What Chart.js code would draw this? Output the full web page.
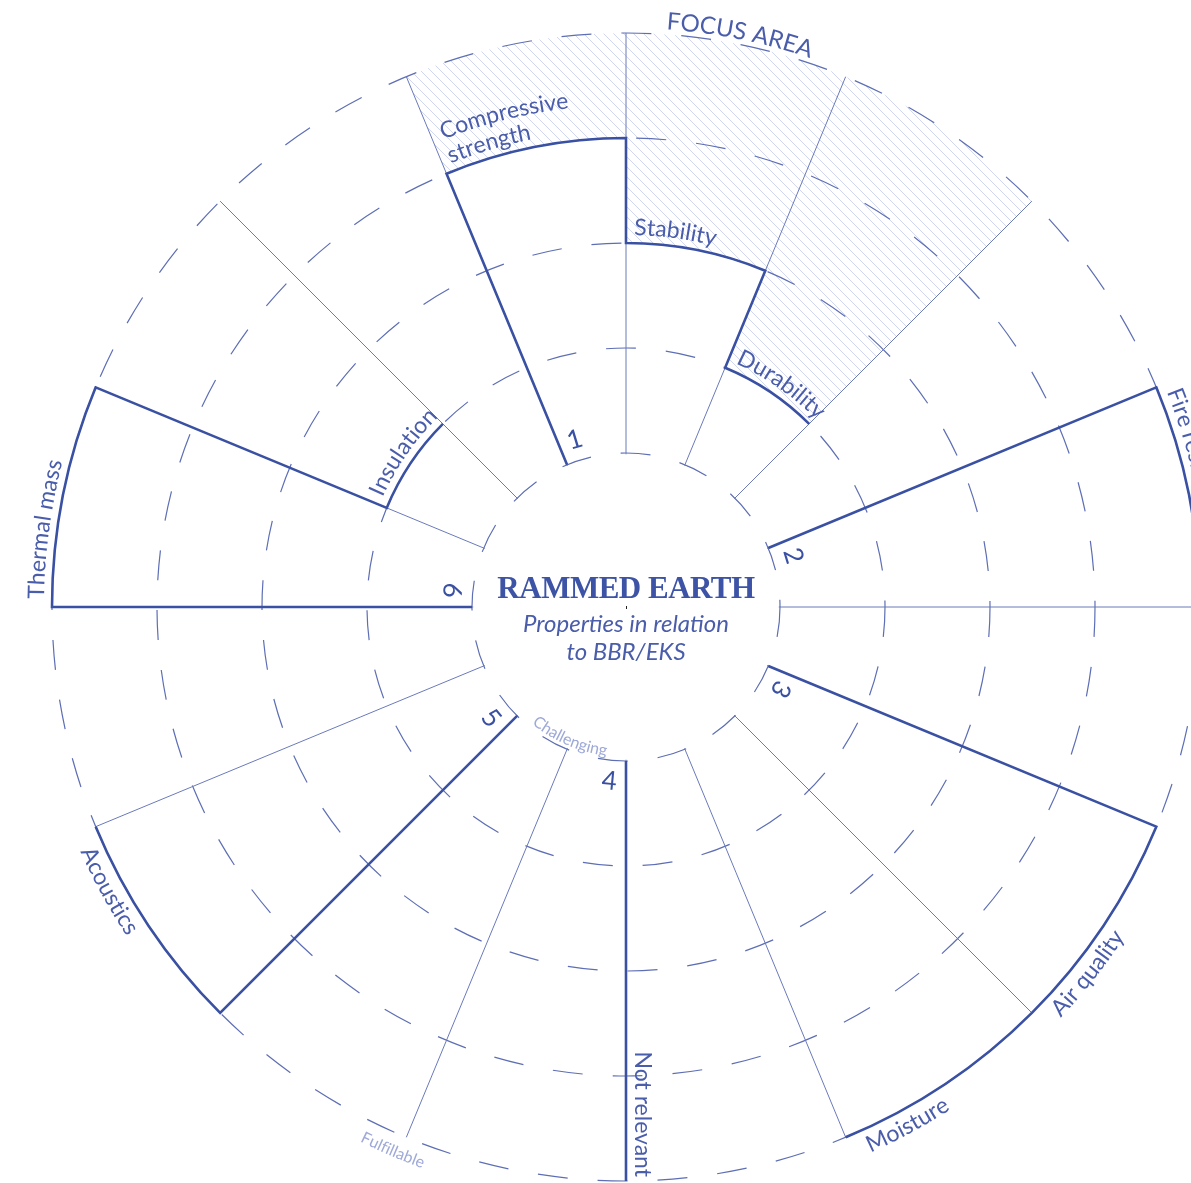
<!DOCTYPE html>
<html>
<head>
<meta charset="utf-8">
<title>Rammed earth</title>
<script src="https://cdn.jsdelivr.net/npm/chart.js@4.4.1/dist/chart.umd.min.js"></script>
<style>
  html, body { margin: 0; padding: 0; background: #fff; overflow: hidden; }
  #wrap { position: absolute; left: 0; top: 0; width: 1260px; height: 1190px; }
</style>
</head>
<body>
<div id="wrap"><canvas id="rammed-earth" width="1260" height="1190"></canvas></div>
<script>
// Sectors clockwise, starting at the left edge of "Compressive strength"
const categories = [
  ['Compressive', 'strength'], 'Stability', 'Durability', '',
  'Fire resistance', '', 'Air quality', 'Moisture', '',
  'Not relevant', '', 'Acoustics', '', 'Thermal mass', 'Insulation', '',
];
// 0 = challenging (inner ring) ... 4 = fulfillable (outer ring)
const ratings = [3, 2, 1, 0, 4, 0, 4, 4, 0, 0, 0, 4, 0, 4, 1, 0];
// property group of every sector (0 = spacer)
const groups = [1, 1, 1, 0, 2, 0, 3, 3, 0, 4, 0, 5, 0, 6, 6, 0];
// sectors inside the hatched focus area
const focus = [1, 1, 1, 0, 0, 0, 0, 0, 0, 0, 0, 0, 0, 0, 0, 0];
const ringValues = [0, 1, 2, 3, 4];
const scaleLabels = ['Challenging', 'Fulfillable'];

const BLUE = '#3a51a3';
const THIN = '#6a7aba';
const RING = '#5d6eb4';
const TEXT = '#4a5dab';
const PALE = '#9ea9d8';
const LABEL_FONT = '23px Lato';

// clock angle: radians clockwise from 12 o'clock
const clock = (canvasAngle) => canvasAngle + Math.PI / 2;
const toDeg = (a) => (((a * 180) / Math.PI) % 360 + 360) % 360;
const at = (s, a, r) => ({ x: s.xCenter + r * Math.sin(a), y: s.yCenter - r * Math.cos(a) });

function arcText(ctx, s, text, r, start, dir) {
  let d = 0;
  for (const ch of text) {
    const w = ctx.measureText(ch).width;
    const a = start + dir * (d + w / 2) / r;
    const p = at(s, a, r);
    ctx.save();
    ctx.translate(p.x, p.y);
    ctx.rotate(dir > 0 ? a : a - Math.PI);
    ctx.textAlign = 'center';
    ctx.fillText(ch, 0, 0);
    ctx.restore();
    d += w;
  }
}

function hatchPattern(ctx) {
  const n = 10;
  const t = document.createElement('canvas');
  t.width = n; t.height = n;
  const c = t.getContext('2d');
  c.strokeStyle = '#d0d6ef';
  c.lineWidth = 1;
  c.beginPath();
  c.moveTo(-1, -1); c.lineTo(n + 1, n + 1);
  c.moveTo(-1, n - 1); c.lineTo(1, n + 1);
  c.moveTo(n - 1, -1); c.lineTo(n + 1, 1);
  c.stroke();
  return ctx.createPattern(t, 'repeat');
}

const wheel = {
  id: 'wheel',
  beforeDraw(chart) {
    // hatched focus area between the bars and the outer ring
    const { ctx } = chart;
    const s = chart.scales.r;
    const arcs = chart.getDatasetMeta(0).data;
    const rMax = s.getDistanceFromCenterForValue(s.max);
    ctx.save();
    ctx.fillStyle = hatchPattern(ctx);
    arcs.forEach((el, i) => {
      if (!focus[i]) return;
      ctx.beginPath();
      ctx.arc(s.xCenter, s.yCenter, rMax, el.startAngle, el.endAngle);
      ctx.arc(s.xCenter, s.yCenter, el.outerRadius, el.endAngle, el.startAngle, true);
      ctx.closePath();
      ctx.fill();
    });
    ctx.restore();
  },
  beforeDatasetsDraw(chart) {
    // clear the hub
    const { ctx } = chart;
    const s = chart.scales.r;
    ctx.save();
    ctx.fillStyle = '#fff';
    ctx.beginPath();
    ctx.arc(s.xCenter, s.yCenter, s.getDistanceFromCenterForValue(0) - 1.2, 0, Math.PI * 2);
    ctx.fill();
    ctx.restore();
  },
  afterDatasetsDraw(chart) {
    const { ctx } = chart;
    const s = chart.scales.r;
    const arcs = chart.getDatasetMeta(0).data;
    const r0 = s.getDistanceFromCenterForValue(0);
    const rMax = s.getDistanceFromCenterForValue(s.max);
    ctx.save();
    ctx.strokeStyle = BLUE;
    ctx.lineWidth = 2.6;
    ctx.font = '26px Lato';
    ctx.fillStyle = BLUE;
    let i = 0;
    while (i < arcs.length) {
      if (!groups[i]) { i++; continue; }
      const g = groups[i];
      const members = [];
      while (i < arcs.length && groups[i] === g) { members.push(i); i++; }
      const first = arcs[members[0]];
      const rated = ratings[members[0]] > 0;
      ctx.beginPath();
      ctx.moveTo(first.x + r0 * Math.cos(first.startAngle), first.y + r0 * Math.sin(first.startAngle));
      const rEdge = rated ? first.outerRadius : rMax;
      ctx.lineTo(first.x + rEdge * Math.cos(first.startAngle), first.y + rEdge * Math.sin(first.startAngle));
      if (rated) {
        members.forEach((m) => {
          const el = arcs[m];
          ctx.lineTo(el.x + el.outerRadius * Math.cos(el.startAngle), el.y + el.outerRadius * Math.sin(el.startAngle));
          ctx.arc(el.x, el.y, el.outerRadius, el.startAngle, el.endAngle);
        });
      }
      ctx.stroke();
      // group number near the hub
      const a = clock(first.startAngle) + (5.5 * Math.PI) / 180;
      const deg = toDeg(a);
      const p = at(s, a, r0 + 21);
      ctx.save();
      ctx.translate(p.x, p.y);
      ctx.rotate(deg > 150 && deg < 300 ? a - Math.PI : a);
      ctx.textAlign = 'center';
      ctx.textBaseline = 'middle';
      ctx.fillText(String(g), 0, 0);
      ctx.restore();
    }
    ctx.restore();
  },
  afterDraw(chart) {
    const { ctx } = chart;
    const s = chart.scales.r;
    const arcs = chart.getDatasetMeta(0).data;
    const r0 = s.getDistanceFromCenterForValue(0);
    const rMax = s.getDistanceFromCenterForValue(s.max);
    ctx.save();
    ctx.fillStyle = TEXT;
    ctx.font = LABEL_FONT;
    ctx.textBaseline = 'alphabetic';
    arcs.forEach((el, i) => {
      const label = categories[i];
      if (!label) return;
      const a0 = clock(el.startAngle);
      const a1 = clock(el.endAngle);
      if (!ratings[i]) {
        // unrated property: written along its radial edge
        const w = ctx.measureText(label).width;
        const p = at(s, a0, rMax - 4 - w);
        ctx.save();
        ctx.translate(p.x, p.y);
        ctx.rotate(a0 - Math.PI / 2);
        ctx.textAlign = 'left';
        ctx.fillText(label, 0, -9);
        ctx.restore();
        return;
      }
      const lines = Array.isArray(label) ? label : [label];
      const mid = toDeg((a0 + a1) / 2);
      const flip = mid > 100 && mid < 260;
      lines.slice().reverse().forEach((line, k) => {
        if (flip) {
          const r = el.outerRadius + 24 + k * 25;
          arcText(ctx, s, line, r, a1 - 17 / r, -1);
        } else {
          const r = el.outerRadius + 8 + k * 25;
          arcText(ctx, s, line, r, a0 + (8 + k * 2) / r, 1);
        }
      });
    });

    // focus area caption, centred over the hatched sectors
    const fIdx = focus.map((f, i) => (f ? i : -1)).filter((i) => i >= 0);
    const fa0 = clock(arcs[fIdx[0]].startAngle);
    const fa1 = clock(arcs[fIdx[fIdx.length - 1]].endAngle);
    ctx.font = '24px Lato';
    const cap = 'FOCUS AREA';
    const rCap = rMax + 5;
    const wCap = ctx.measureText(cap).width;
    arcText(ctx, s, cap, rCap, (fa0 + fa1) / 2 - wCap / 2 / rCap, 1);

    // scale legend on the radial line after "Not relevant"
    const legendIdx = categories.indexOf('Not relevant') + 1;
    const la = clock(arcs[legendIdx].startAngle);
    ctx.font = '16px Lato';
    ctx.fillStyle = PALE;
    const rIn = r0 - 4;
    const wIn = ctx.measureText(scaleLabels[0]).width;
    arcText(ctx, s, scaleLabels[0], rIn, la + 2 / rIn + wIn / 2 / rIn, -1);
    const rOut = rMax + 23;
    const wOut = ctx.measureText(scaleLabels[1]).width;
    arcText(ctx, s, scaleLabels[1], rOut, la + 8 / rOut + wOut / 2 / rOut, -1);

    // title in the hub
    ctx.textAlign = 'center';
    ctx.fillStyle = '#3d54a6';
    ctx.font = 'bold 31px "Liberation Serif"';
    ctx.letterSpacing = '-0.5px';
    ctx.fillText('RAMMED EARTH', s.xCenter, s.yCenter - 9);
    ctx.letterSpacing = '0px';
    ctx.fillStyle = TEXT;
    ctx.font = 'italic 24px Lato';
    ctx.fillText('Properties in relation', s.xCenter, s.yCenter + 25);
    ctx.fillText('to BBR/EKS', s.xCenter, s.yCenter + 53);
    ctx.fillStyle = '#222';
    ctx.fillRect(s.xCenter, s.yCenter - 1, 1, 3);
    ctx.restore();
  },
};

const ctx = document.getElementById('rammed-earth');
const chart = new Chart(ctx, {
  type: 'polarArea',
  data: {
    labels: categories,
    datasets: [{
      data: ratings,
      backgroundColor: 'rgba(0,0,0,0)',
      borderWidth: 0,
    }],
  },
  options: {
    responsive: false,
    animation: false,
    layout: {
      padding: { left: 52, top: 33, right: 60, bottom: 9 },
    },
    scales: {
      r: {
        startAngle: -22.5,
        min: -154 / 105,
        max: 4,
        afterBuildTicks: (scale) => {
          scale.ticks = ringValues.map((v) => ({ value: v }));
        },
        ticks: { display: false },
        pointLabels: { display: false },
        grid: {
          circular: true,
          color: RING,
          lineWidth: 1.2,
        },
        border: { dash: [30, 30] },
        angleLines: {
          display: true,
          color: THIN,
          lineWidth: 1,
        },
      },
    },
    plugins: {
      legend: { display: false },
      tooltip: { enabled: false },
    },
  },
  plugins: [wheel],
});
</script>
</body>
</html>
